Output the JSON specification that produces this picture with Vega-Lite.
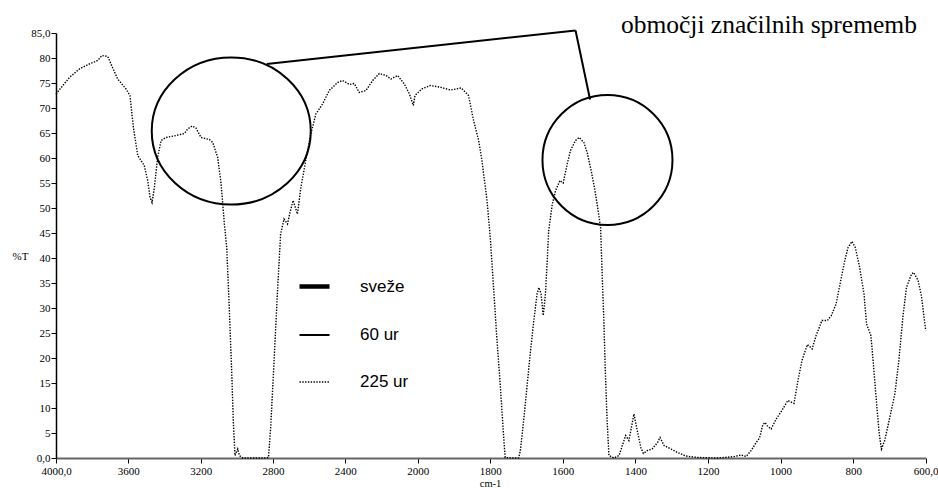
{
  "$schema": "https://vega.github.io/schema/vega-lite/v6.json",
  "width": 870,
  "height": 425,
  "autosize": "none",
  "padding": {"left": 56, "top": 33, "right": 12, "bottom": 30},
  "background": "white",
  "config": {
    "view": {"stroke": null},
    "axis": {"grid": false, "labelFont": "Liberation Serif", "titleFont": "Liberation Serif", "labelColor": "black", "titleColor": "black", "labelFontSize": 11, "titleFontSize": 11, "titleFontWeight": "normal", "tickColor": "black", "tickSize": 5}
  },
  "encoding": {
    "x": {
      "field": "wn", "type": "quantitative",
      "scale": {"domain": [4000, 2000, 600], "range": [0, 361.7, 869.7], "nice": false, "zero": false},
      "axis": {
        "values": [4000, 3600, 3200, 2800, 2400, 2000, 1800, 1600, 1400, 1200, 1000, 800, 600],
        "format": "d",
        "labelExpr": "datum.value == 4000 ? '4000,0' : datum.value == 600 ? '600,0' : datum.label",
        "labelOverlap": false, "labelFlush": false, "labelPadding": 2,
        "domainColor": "#666666", "domainWidth": 2,
        "title": "cm-1", "titleFontSize": 10.5, "titleX": 434, "titleY": 28.5, "titleBaseline": "alphabetic", "titleAnchor": null, "titleAlign": "center"
      }
    },
    "y": {
      "field": "T", "type": "quantitative",
      "scale": {"domain": [0, 85], "nice": false, "zero": true},
      "axis": {
        "values": [0, 5, 10, 15, 20, 25, 30, 35, 40, 45, 50, 55, 60, 65, 70, 75, 80, 85],
        "labelExpr": "datum.value == 0 ? '0,0' : datum.value == 85 ? '85,0' : datum.label",
        "labelOverlap": false, "labelFlush": false, "labelPadding": 1,
        "domainColor": "black", "domainWidth": 1.5,
        "title": "%T", "titleAngle": 0, "titleX": -36, "titleY": 223, "titleAlign": "center", "titleBaseline": "middle"
      }
    }
  },
  "layer": [
    {
      "data": {"values": [
        {"wn":4000,"T":72.8},{"wn":3926,"T":76.1},{"wn":3871,"T":77.8},{"wn":3816,"T":78.8},{"wn":3770,"T":79.5},{"wn":3746,"T":80.5},{"wn":3714,"T":80.3},{"wn":3696,"T":78.8},{"wn":3659,"T":75.8},{"wn":3613,"T":73.8},{"wn":3591,"T":72.5},{"wn":3572,"T":66.1},{"wn":3548,"T":60.5},{"wn":3512,"T":58.5},{"wn":3493,"T":55.5},{"wn":3480,"T":52.1},{"wn":3469,"T":51.1},{"wn":3456,"T":54.1},{"wn":3438,"T":60.1},{"wn":3419,"T":63.5},{"wn":3392,"T":64.1},{"wn":3336,"T":64.5},{"wn":3290,"T":64.9},{"wn":3272,"T":65.8},{"wn":3248,"T":66.4},{"wn":3226,"T":66.0},{"wn":3198,"T":64.1},{"wn":3152,"T":63.7},{"wn":3133,"T":63.1},{"wn":3106,"T":60.1},{"wn":3087,"T":54.8},{"wn":3069,"T":46.8},{"wn":3056,"T":42.1},{"wn":3042,"T":30.1},{"wn":3028,"T":16.8},{"wn":3019,"T":6.8},{"wn":3010,"T":0.5},{"wn":2995,"T":1.8},{"wn":2986,"T":0.5},{"wn":2968,"T":0},{"wn":2900,"T":0},{"wn":2840,"T":0},{"wn":2825,"T":0.1},{"wn":2813,"T":6.1},{"wn":2794,"T":19.5},{"wn":2776,"T":32.8},{"wn":2758,"T":44.8},{"wn":2739,"T":47.8},{"wn":2720,"T":46.8},{"wn":2708,"T":48.8},{"wn":2689,"T":51.5},{"wn":2665,"T":48.8},{"wn":2646,"T":54.1},{"wn":2619,"T":59.5},{"wn":2591,"T":64.8},{"wn":2563,"T":68.8},{"wn":2526,"T":70.8},{"wn":2489,"T":73.5},{"wn":2443,"T":75.1},{"wn":2415,"T":75.5},{"wn":2378,"T":74.7},{"wn":2351,"T":74.9},{"wn":2323,"T":73.1},{"wn":2286,"T":73.5},{"wn":2249,"T":75.5},{"wn":2212,"T":76.9},{"wn":2175,"T":76.5},{"wn":2148,"T":75.8},{"wn":2111,"T":76.5},{"wn":2074,"T":74.8},{"wn":2046,"T":72.8},{"wn":2024,"T":70.5},{"wn":2015,"T":72.5},{"wn":1989,"T":73.8},{"wn":1966,"T":74.5},{"wn":1940,"T":74.2},{"wn":1910,"T":73.6},{"wn":1880,"T":74.0},{"wn":1860,"T":72.5},{"wn":1846,"T":67.5},{"wn":1832,"T":63.5},{"wn":1823,"T":59.5},{"wn":1809,"T":51.5},{"wn":1800,"T":44.1},{"wn":1791,"T":34.1},{"wn":1782,"T":24.1},{"wn":1772,"T":14.1},{"wn":1763,"T":4.1},{"wn":1759,"T":0.1},{"wn":1740,"T":0},{"wn":1722,"T":0},{"wn":1717,"T":1.5},{"wn":1708,"T":7.5},{"wn":1699,"T":14.1},{"wn":1690,"T":20.8},{"wn":1680,"T":27.5},{"wn":1671,"T":32.8},{"wn":1666,"T":34.1},{"wn":1660,"T":32.8},{"wn":1654,"T":28.5},{"wn":1648,"T":32.8},{"wn":1643,"T":39.5},{"wn":1639,"T":45.5},{"wn":1629,"T":50.8},{"wn":1620,"T":53.5},{"wn":1608,"T":55.5},{"wn":1599,"T":55.0},{"wn":1588,"T":58.8},{"wn":1579,"T":61.5},{"wn":1565,"T":63.5},{"wn":1555,"T":64.1},{"wn":1542,"T":63.1},{"wn":1533,"T":61.1},{"wn":1522,"T":57.5},{"wn":1513,"T":54.1},{"wn":1504,"T":50.1},{"wn":1496,"T":46.1},{"wn":1492,"T":37.5},{"wn":1487,"T":27.5},{"wn":1483,"T":17.5},{"wn":1478,"T":7.5},{"wn":1473,"T":0.5},{"wn":1459,"T":0},{"wn":1445,"T":0.5},{"wn":1436,"T":2.5},{"wn":1427,"T":4.5},{"wn":1418,"T":3.5},{"wn":1411,"T":6.1},{"wn":1404,"T":8.8},{"wn":1395,"T":5.5},{"wn":1385,"T":2.1},{"wn":1378,"T":0.9},{"wn":1367,"T":1.5},{"wn":1354,"T":1.8},{"wn":1339,"T":3.1},{"wn":1332,"T":4.1},{"wn":1321,"T":2.5},{"wn":1302,"T":1.8},{"wn":1284,"T":1.1},{"wn":1261,"T":0.4},{"wn":1229,"T":0.1},{"wn":1173,"T":0},{"wn":1127,"T":0.3},{"wn":1109,"T":0.6},{"wn":1095,"T":0.3},{"wn":1081,"T":1.5},{"wn":1067,"T":3.1},{"wn":1058,"T":4.0},{"wn":1049,"T":6.6},{"wn":1043,"T":7.1},{"wn":1035,"T":6.3},{"wn":1026,"T":5.8},{"wn":1012,"T":7.8},{"wn":998,"T":9.3},{"wn":980,"T":11.5},{"wn":963,"T":10.9},{"wn":952,"T":15.5},{"wn":941,"T":19.5},{"wn":926,"T":22.7},{"wn":913,"T":21.8},{"wn":902,"T":24.5},{"wn":886,"T":27.5},{"wn":871,"T":27.5},{"wn":860,"T":28.5},{"wn":847,"T":30.8},{"wn":838,"T":34.1},{"wn":823,"T":39.5},{"wn":814,"T":42.1},{"wn":803,"T":43.3},{"wn":794,"T":42.1},{"wn":782,"T":38.1},{"wn":770,"T":32.8},{"wn":763,"T":26.8},{"wn":751,"T":24.5},{"wn":745,"T":19.5},{"wn":736,"T":11.5},{"wn":728,"T":4.8},{"wn":722,"T":1.8},{"wn":713,"T":3.5},{"wn":699,"T":8.1},{"wn":685,"T":12.8},{"wn":674,"T":19.5},{"wn":662,"T":28.8},{"wn":653,"T":34.1},{"wn":639,"T":36.8},{"wn":633,"T":37.1},{"wn":621,"T":35.5},{"wn":612,"T":32.5},{"wn":600,"T":25.5}
      ]},
      "transform": [{"calculate": "'225 ur'", "as": "series"}],
      "mark": {"type": "line", "color": "black", "interpolate": "linear"},
      "encoding": {
        "strokeWidth": {
          "field": "series", "type": "nominal",
          "scale": {"type": "ordinal", "domain": ["sveže", "60 ur", "225 ur"], "range": [4.5, 1.8, 1.4]},
          "legend": {
            "title": null, "orient": "none", "legendX": 241, "legendY": 236,
            "symbolType": "stroke", "symbolSize": 900, "symbolStrokeColor": "black",
            "labelFont": "Liberation Sans", "labelFontSize": 17, "labelColor": "black",
            "labelOffset": 28, "rowPadding": 23, "padding": 0
          }
        },
        "strokeDash": {
          "field": "series", "type": "nominal",
          "scale": {"domain": ["sveže", "60 ur", "225 ur"], "range": [[1, 0], [1, 0], [1.4, 1.4]]},
          "legend": {
            "title": null, "orient": "none", "legendX": 241, "legendY": 236,
            "symbolType": "stroke", "symbolSize": 900, "symbolStrokeColor": "black",
            "labelFont": "Liberation Sans", "labelFontSize": 17, "labelColor": "black",
            "labelOffset": 28, "rowPadding": 23, "padding": 0
          }
        }
      }
    },
    {
      "data": {"values": [{"wn": 3031, "T": 65.4}]},
      "mark": {"type": "point", "filled": false, "color": "black", "strokeWidth": 2, "opacity": 1, "size": 25281, "shape": "M-1,0A1,0.925,0,1,0,1,0A1,0.925,0,1,0,-1,0Z"}
    },
    {
      "data": {"values": [{"wn": 1477, "T": 59.6}]},
      "mark": {"type": "point", "filled": false, "color": "black", "strokeWidth": 2, "opacity": 1, "size": 16900, "shape": "circle"}
    },
    {
      "data": {"values": [
        {"wn": 1565, "T": 85.5, "wn2": 2835, "T2": 78.8},
        {"wn": 1565, "T": 85.5, "wn2": 1525, "T2": 71.7}
      ]},
      "mark": {"type": "rule", "color": "black", "strokeWidth": 2},
      "encoding": {
        "x2": {"field": "wn2"},
        "y2": {"field": "T2"}
      }
    },
    {
      "data": {"values": [{"wn": 1440, "T": 85.1, "label": "območji značilnih sprememb"}]},
      "mark": {"type": "text", "align": "left", "baseline": "alphabetic", "font": "Liberation Serif", "fontSize": 25.5, "color": "black"},
      "encoding": {
        "text": {"field": "label"}
      }
    }
  ]
}
